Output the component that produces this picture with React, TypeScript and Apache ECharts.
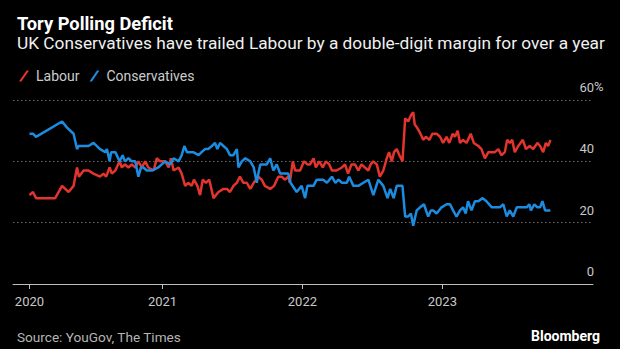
import React, { useEffect, useRef } from "react";
import * as echarts from "echarts";

const labourDates = [
  "2020-01-20","2020-01-29","2020-02-06","2020-03-27","2020-04-14","2020-05-01","2020-05-14","2020-05-23","2020-05-28","2020-06-09",
  "2020-06-22","2020-07-05","2020-07-22","2020-07-31","2020-08-07","2020-08-16","2020-08-22","2020-08-31","2020-09-11","2020-09-17",
  "2020-09-25","2020-10-04","2020-10-13","2020-10-22","2020-10-30","2020-11-08","2020-11-17","2020-11-25","2020-12-09","2020-12-17",
  "2020-12-26","2021-01-08","2021-01-17","2021-01-23","2021-01-30","2021-02-12","2021-02-20","2021-03-01","2021-03-09","2021-03-18",
  "2021-03-24","2021-04-02","2021-04-09","2021-04-16","2021-04-24","2021-05-03","2021-05-14","2021-05-27","2021-06-09","2021-06-18",
  "2021-06-26","2021-07-05","2021-07-14","2021-07-22","2021-07-31","2021-08-09","2021-08-18","2021-08-27","2021-09-08","2021-09-17",
  "2021-09-25","2021-10-09","2021-10-19","2021-10-30","2021-11-08","2021-11-16","2021-11-25","2021-11-29","2021-12-07","2021-12-13",
  "2021-12-26","2022-01-05","2022-01-14","2022-01-21","2022-01-30","2022-02-05","2022-02-14","2022-02-23","2022-03-03","2022-03-12",
  "2022-03-19","2022-03-31","2022-04-14","2022-04-22","2022-04-30","2022-05-09","2022-05-18","2022-05-27","2022-06-04","2022-06-13",
  "2022-06-22","2022-06-28","2022-07-05","2022-07-14","2022-07-22","2022-07-31","2022-08-09","2022-08-15","2022-08-22","2022-08-28",
  "2022-09-04","2022-09-11","2022-09-19","2022-09-26","2022-10-04","2022-10-11","2022-10-17","2022-10-21","2022-10-27","2022-11-05",
  "2022-11-12","2022-11-19","2022-11-28","2022-12-06","2022-12-17","2022-12-26","2023-01-03","2023-01-12","2023-01-19","2023-01-28",
  "2023-02-03","2023-02-10","2023-02-16","2023-02-24","2023-03-05","2023-03-16","2023-03-24","2023-04-05","2023-04-13","2023-04-22",
  "2023-05-01","2023-05-18","2023-05-27","2023-06-04","2023-06-13","2023-06-19","2023-06-26","2023-07-02","2023-07-09","2023-07-18",
  "2023-07-30","2023-08-07","2023-08-17","2023-08-26","2023-09-06","2023-09-13","2023-09-21","2023-09-28","2023-10-04","2023-10-10",
];
const labourValues = [
  29,30,28,28,32,30,32,38,35,37,
  37,36,35,36,35,38,36,37,40,38,
  39,38,39,38,40,38,40,38,37,41,
  40,40,38,41,37,38,36,32,33,32,
  34,32,29,34,33,34,28,30,31,31,
  30,32,33,35,33,33,31,33,35,34,
  32,31,32,35,35,34,35,33,40,37,
  37,40,39,39,41,38,40,38,40,39,
  37,37,38,39,36,39,39,37,39,38,
  37,39,40,39,35,37,41,43,40,43,
  44,42,40,54,53,55,56,52,51,49,
  47,48,47,49,49,48,46,48,46,49,
  48,50,46,47,46,49,46,45,44,41,
  43,43,44,42,43,47,46,47,43,45,
  47,44,45,44,46,45,43,46,45,47,
];

const conDates = [
  "2020-01-20","2020-01-29","2020-02-06","2020-04-14","2020-04-27","2020-05-14","2020-05-23","2020-05-27","2020-06-22","2020-07-05",
  "2020-07-22","2020-08-05","2020-08-09","2020-08-16","2020-08-20","2020-08-31","2020-09-11","2020-09-19","2020-09-25","2020-10-04",
  "2020-10-13","2020-10-22","2020-10-30","2020-11-06","2020-11-12","2020-11-21","2020-12-04","2020-12-21","2020-12-30","2021-01-08",
  "2021-01-21","2021-01-30","2021-02-12","2021-02-20","2021-02-27","2021-03-06","2021-03-14","2021-03-22","2021-04-05","2021-04-13",
  "2021-04-22","2021-04-30","2021-05-10","2021-05-18","2021-05-24","2021-05-31","2021-06-09","2021-06-18","2021-06-26","2021-07-05",
  "2021-07-14","2021-07-18","2021-07-27","2021-08-05","2021-08-18","2021-08-27","2021-09-04","2021-09-08","2021-09-13","2021-09-30",
  "2021-10-09","2021-10-17","2021-10-26","2021-11-04","2021-11-12","2021-11-25","2021-12-01","2021-12-17","2021-12-30","2022-01-08",
  "2022-01-14","2022-01-21","2022-01-30","2022-02-07","2022-02-24","2022-03-06","2022-03-19","2022-03-28","2022-04-05","2022-04-14",
  "2022-04-27","2022-05-03","2022-05-14","2022-05-27","2022-06-09","2022-06-22","2022-07-05","2022-07-18","2022-07-31","2022-08-11",
  "2022-08-18","2022-08-27","2022-09-04","2022-09-13","2022-09-19","2022-09-26","2022-10-04","2022-10-11","2022-10-17","2022-10-26",
  "2022-11-04","2022-11-14","2022-11-25","2022-12-02","2022-12-08","2022-12-17","2022-12-30","2023-01-12","2023-01-21","2023-01-29",
  "2023-02-07","2023-02-16","2023-02-24","2023-03-03","2023-03-09","2023-03-18","2023-03-27","2023-04-05","2023-04-16","2023-04-26",
  "2023-05-10","2023-05-31","2023-06-09","2023-06-18","2023-06-26","2023-07-05","2023-07-14","2023-08-09","2023-08-16","2023-08-20",
  "2023-08-29","2023-09-06","2023-09-13","2023-09-19","2023-09-26","2023-10-10",
];
const conValues = [
  49,49,48,53,51,49,44,45,45,46,
  44,43,44,40,43,43,40,42,40,41,
  40,40,35,38,38,37,37,38,39,40,
  39,41,40,42,45,43,43,43,42,43,
  44,44,45,46,44,46,45,44,42,42,
  44,38,40,41,40,38,33,36,39,39,
  41,37,39,36,36,36,33,30,32,28,
  32,32,32,34,34,33,35,33,34,33,
  33,35,32,32,33,34,29,34,32,28,
  31,28,32,32,32,22,22,23,19,24,
  25,26,22,24,24,23,25,26,26,24,
  22,24,25,23,27,24,27,27,28,27,
  25,25,26,22,24,22,25,25,26,24,
  26,25,25,27,24,24,
];

const xRange = ["2019-12-08", "2024-01-29"];
const tickDates = ["2020-01-20", "2021-01-01", "2022-01-01", "2023-01-01"];
const tickLabels = ["2020", "2021", "2022", "2023"];
const yTicks = { min: 0, max: 60, interval: 20 };

const RED = "#e3342d";
const BLUE = "#1c8ce0";
const FONT = "Roboto";

const parse = (d: string) => {
  const [y, m, dd] = d.split("-").map(Number);
  return Date.UTC(y, m - 1, dd);
};

export default function App() {
  const ref = useRef<HTMLDivElement>(null);
  useEffect(() => {
    if (!ref.current) return;
    const chart = echarts.init(ref.current, null, { renderer: "svg" });
    const tickTs = tickDates.map(parse);
    const fmtX = (v: number) => {
      let best = -1, bd = Infinity;
      tickTs.forEach((t, i) => {
        const d = Math.abs(t - v);
        if (d < bd) { bd = d; best = i; }
      });
      return bd < 86400000 ? tickLabels[best] : "";
    };
    chart.setOption({
      animation: false,
      backgroundColor: "#000",
      title: [
        { text: "Tory Polling Deficit", left: 12, top: 9, textStyle: { color: "#fff", fontFamily: FONT, fontWeight: "bold", fontSize: 18.3 } },
        { text: "UK Conservatives have trailed Labour by a double-digit margin for over a year", left: 12, top: 29, textStyle: { color: "#f0f0f0", fontFamily: FONT, fontWeight: "normal", fontSize: 17.3 } },
        { text: "Source: YouGov, The Times", left: 12, top: 325, textStyle: { color: "#b5b5b5", fontFamily: FONT, fontWeight: "normal", fontSize: 13.6 } },
        { text: "Bloomberg", right: 15, top: 324, textStyle: { color: "#fff", fontFamily: FONT, fontWeight: "bold", fontSize: 14 } },
      ],
      legend: {
        left: 14, top: 64, itemWidth: 10, itemHeight: 11, itemGap: 10,
        icon: "path://M7.5,0 L10,0 L2.5,11 L0,11 Z",
        textStyle: { color: "#ccc", fontFamily: FONT, fontSize: 14, padding: [0, 0, 0, 2] },
        data: ["Labour", "Conservatives"],
      },
      grid: { left: 13, right: 27, top: 100, bottom: 65 },
      xAxis: {
        type: "value",
        min: parse(xRange[0]),
        max: parse(xRange[1]),
        axisLine: { lineStyle: { color: "#bdbdbd", width: 1 } },
        axisTick: { show: true, customValues: tickTs, length: 5, lineStyle: { color: "#bdbdbd" } },
        axisLabel: { customValues: tickTs, formatter: fmtX, color: "#c8c8c8", fontFamily: FONT, fontSize: 13, margin: 11, hideOverlap: false },
        splitLine: { show: false },
      },
      yAxis: {
        type: "value",
        position: "right",
        min: yTicks.min, max: yTicks.max, interval: yTicks.interval,
        axisLine: { show: false },
        axisTick: { show: false },
        axisLabel: { inside: true, align: "right", verticalAlign: "bottom", padding: [0, 0, 6, 0], margin: -1, color: "#c8c8c8", fontFamily: FONT, fontSize: 13 },
        splitLine: { lineStyle: { color: "#6a6a6a", width: 1, type: [1.5, 2.5] } },
      },
      graphic: [
        { type: "text", left: 594, top: 80, style: { text: "%", fill: "#c8c8c8", font: `13px ${FONT}` } },
      ],
      series: [
        {
          name: "Labour", type: "line", showSymbol: false, color: RED,
          lineStyle: { width: 2.5, color: RED },
          data: labourDates.map((d, i) => [parse(d), labourValues[i]]),
        },
        {
          name: "Conservatives", type: "line", showSymbol: false, color: BLUE,
          lineStyle: { width: 2.5, color: BLUE },
          data: conDates.map((d, i) => [parse(d), conValues[i]]),
        },
      ],
    });
    return () => chart.dispose();
  }, []);
  return <div ref={ref} style={{ position: "absolute", left: 0, top: 0, width: 620, height: 349 }} />;
}
